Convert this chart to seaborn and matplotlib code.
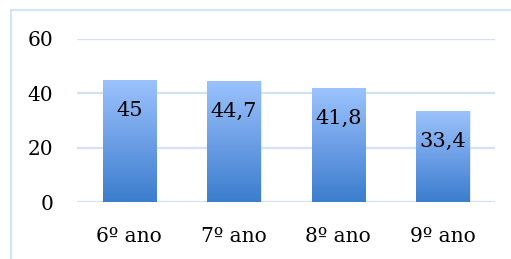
import numpy as np
import pandas as pd
import matplotlib
matplotlib.use("Agg")
import matplotlib.pyplot as plt
import seaborn as sns
from matplotlib.colors import LinearSegmentedColormap
from matplotlib.patches import Rectangle

# --- DATA ---
categories = ["6º ano", "7º ano", "8º ano", "9º ano"]
values = [45, 44.7, 41.8, 33.4]
value_labels = ["45", "44,7", "41,8", "33,4"]
y_ticks = [0, 20, 40, 60]

sns.set_theme(style="white")
plt.rcParams['font.family'] = ['DejaVu Serif']
plt.rcParams['text.color'] = 'black'
plt.rcParams['xtick.color'] = 'black'
plt.rcParams['ytick.color'] = 'black'

df = pd.DataFrame({"cat": categories, "val": values})

fig = plt.figure(figsize=(5.11, 2.59), dpi=100)
# light blue frame around the chart area
fig.patches.append(Rectangle((11 / 511, -0.1), 1.2, 1 - 10 / 259 + 0.1,
                             transform=fig.transFigure, fill=False,
                             edgecolor="#d3e2f4", lw=1.5))
ax = fig.add_axes([77 / 511, 1 - 202 / 259, (495 - 77) / 511, (202 - 39) / 259])

sns.barplot(data=df, x="cat", y="val", ax=ax, width=0.51, color="#6a9ee6", zorder=3)

# gradient fill for each bar
cmap = LinearSegmentedColormap.from_list("grad", ["#3b7dcd", "#6d9fe6", "#9bc3fc"])
grad = np.linspace(0, 1, 256).reshape(-1, 1)
for bar in list(ax.patches):
    x0, w, h = bar.get_x(), bar.get_width(), bar.get_height()
    # soft shadow
    ax.add_patch(Rectangle((x0 + 0.015, 0), w, h, facecolor="#c8ccd4", alpha=0.5,
                           edgecolor="none", zorder=2))
    im = ax.imshow(grad, cmap=cmap, aspect="auto", origin="lower",
                   extent=[x0, x0 + w, 0, h], zorder=4)
    im.set_clip_path(bar)
    bar.set_alpha(0)

for i, (v, lab) in enumerate(zip(values, value_labels)):
    ax.text(i, v - 11.2, lab, ha="center", va="center", fontsize=15, color="black", zorder=5)

ax.set_xlim(-0.5, 3.5)
ax.set_ylim(0, 60)
ax.set_yticks(y_ticks)
ax.set_yticklabels([str(t) for t in y_ticks], fontsize=14.5)
ax.tick_params(axis="x", labelsize=14.5, pad=18, length=0)
ax.tick_params(axis="y", pad=17, length=0)
ax.set_xlabel("")
ax.set_ylabel("")
ax.yaxis.grid(True, color="#d3e1f3", lw=1.6, zorder=0)
ax.set_axisbelow(True)
sns.despine(ax=ax, left=True, bottom=True)

fig.savefig("out.png", dpi=100)
